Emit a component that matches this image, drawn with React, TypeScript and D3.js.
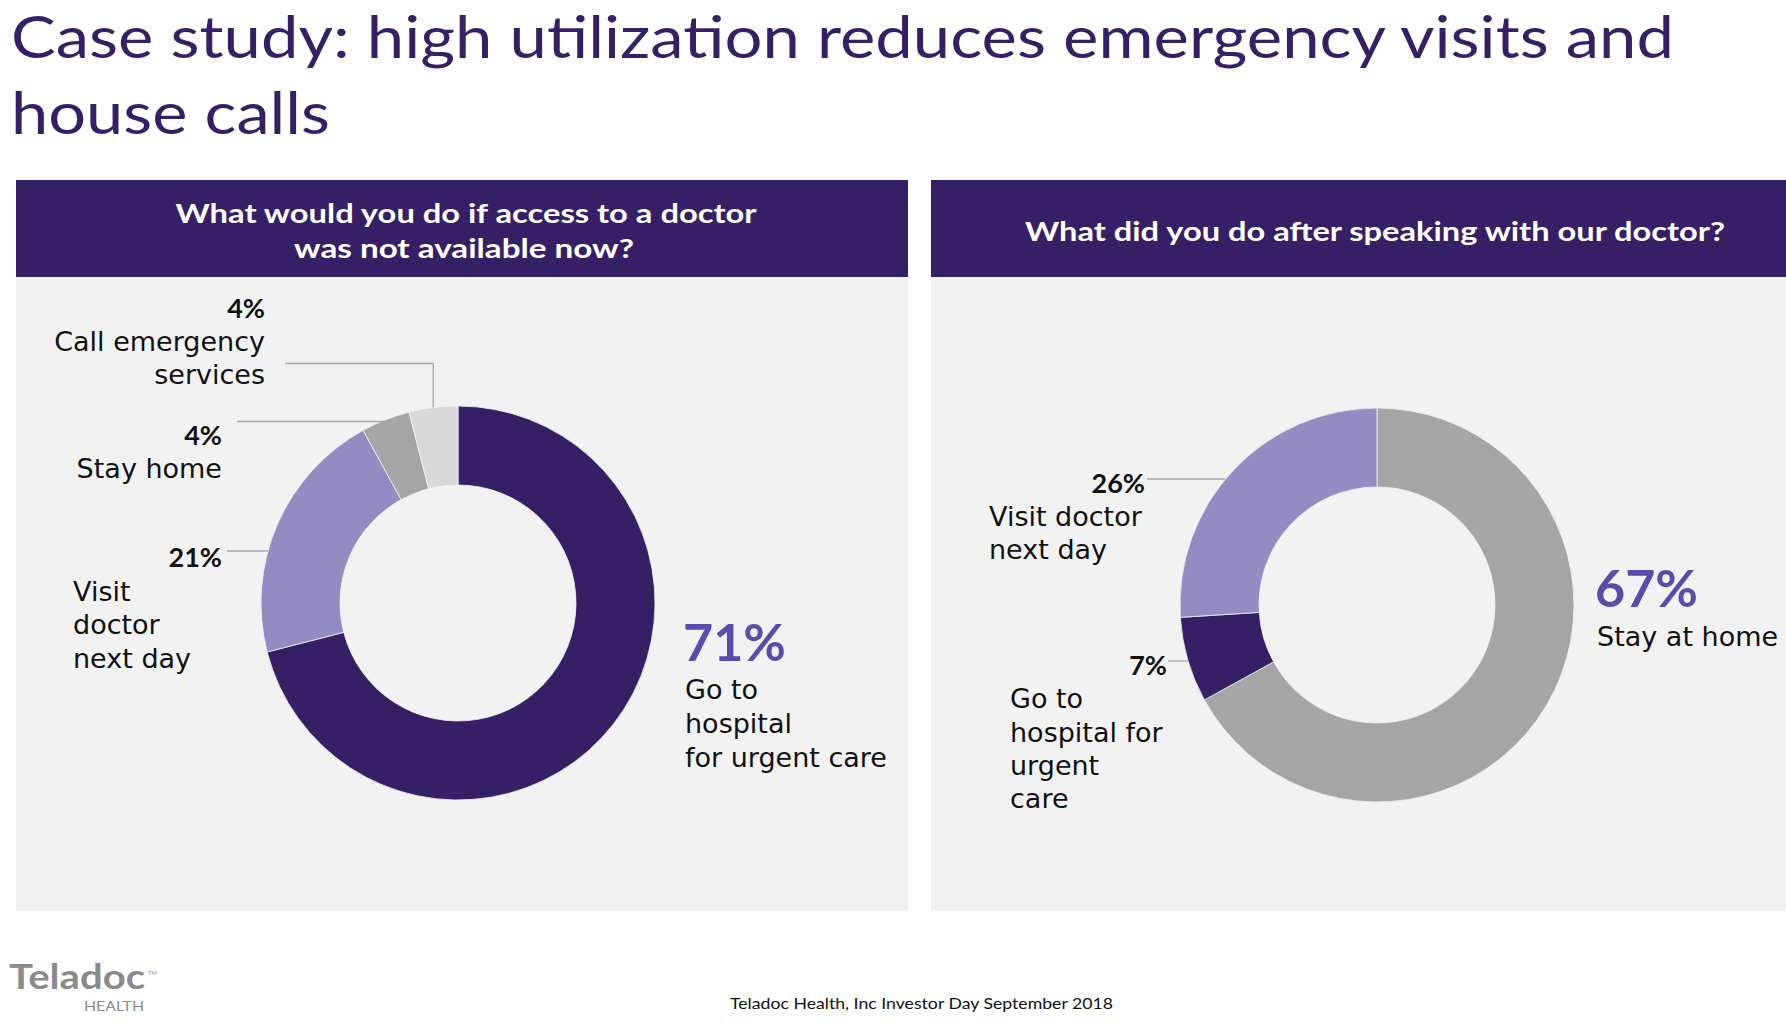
import React from 'react';
import * as d3 from 'd3';

const leftCategories = ['Go to hospital for urgent care', 'Visit doctor next day', 'Stay home', 'Call emergency services'];
const leftValues = [71, 21, 4, 4];
const leftColors = ['#351f65', '#948bc2', '#a5a5a5', '#d9d9d9'];

const rightCategories = ['Stay at home', 'Go to hospital for urgent care', 'Visit doctor next day'];
const rightValues = [67, 7, 26];
const rightColors = ['#a5a5a5', '#351f65', '#948bc2'];

const titleLines = ['Case study: high utilization reduces emergency visits and', 'house calls'];
const leftHeader = ['What would you do if access to a doctor', 'was not available now?'];
const rightHeader = ['What did you do after speaking with our doctor?'];
const footerText = 'Teladoc Health, Inc Investor Day September 2018';

const W = 1786;
const H = 1025;
const SANS = "'DejaVu Sans', sans-serif";
const LATO = "Lato, 'Open Sans', sans-serif";
const PURPLE = '#351f65';
const ACCENT = '#5b4bab';
const LINE = '#a6a6a6';
const outerR = 197;
const innerR = 118;

type Slice = d3.PieArcDatum<number>;

const pie = d3.pie<number>().sort(null).value(d => d);

function Donut({ values, colors, cx, cy }: { values: number[]; colors: string[]; cx: number; cy: number }) {
  const arc = d3.arc<Slice>().innerRadius(innerR).outerRadius(outerR);
  const arcs = pie(values);
  return (
    <g transform={`translate(${cx},${cy})`}>
      {arcs.map((a, i) => (
        <path key={i} d={arc(a) as string} fill={colors[i]} stroke="#f2f2f2" strokeWidth={0.8} />
      ))}
    </g>
  );
}

// x on the outer edge of a donut, left side, for a horizontal leader at y
function edgeX(cx: number, cy: number, y: number) {
  const dy = y - cy;
  return cx - Math.sqrt(outerR * outerR - dy * dy);
}

export default function App() {
  const lc = { x: 458, y: 603 };
  const rc = { x: 1377, y: 605 };

  // leader for call emergency services goes down to the slice's mid angle
  const la = pie(leftValues);
  const callMid = (la[3].startAngle + la[3].endAngle) / 2;
  const callX = lc.x + outerR * Math.sin(callMid);
  const callTop = lc.y - outerR * Math.cos(callMid);

  const labelStyle = { fontFamily: SANS, fontSize: 27, fill: '#111' } as const;
  const pctStyle = { fontFamily: LATO, fontSize: 27, fontWeight: 700, fill: '#111' } as const;
  const bigStyle = { fontFamily: LATO, fontSize: 52, fontWeight: 700, fill: ACCENT } as const;
  const headStyle = { fontFamily: LATO, fontSize: 27, fontWeight: 700 } as const;

  return (
    <svg width={W} height={H} style={{ position: 'absolute', left: 0, top: 0, background: '#fff' }}>
      <rect width={W} height={H} fill="#fff" />
      {/* title */}
      <text x={11} y={58} fill={PURPLE} style={{ fontFamily: LATO, fontSize: 59 }} textLength={1663} lengthAdjust="spacingAndGlyphs">{titleLines[0]}</text>
      <text x={11} y={134} fill={PURPLE} style={{ fontFamily: LATO, fontSize: 59 }} textLength={319} lengthAdjust="spacingAndGlyphs">{titleLines[1]}</text>

      {/* panels */}
      <rect x={16} y={180} width={892} height={731} fill="#f2f2f2" />
      <rect x={16} y={180} width={892} height={97} fill={PURPLE} />
      <rect x={931} y={180} width={855} height={731} fill="#f2f2f2" />
      <rect x={931} y={180} width={855} height={97} fill={PURPLE} />

      <text x={466} y={223} textAnchor="middle" fill="#fff" style={headStyle} textLength={581} lengthAdjust="spacingAndGlyphs">{leftHeader[0]}</text>
      <text x={464} y={258} textAnchor="middle" fill="#fff" style={headStyle} textLength={340} lengthAdjust="spacingAndGlyphs">{leftHeader[1]}</text>
      <text x={1375} y={241} textAnchor="middle" fill="#fff" style={headStyle} textLength={700} lengthAdjust="spacingAndGlyphs">{rightHeader[0]}</text>

      <Donut values={leftValues} colors={leftColors} cx={lc.x} cy={lc.y} />
      <Donut values={rightValues} colors={rightColors} cx={rc.x} cy={rc.y} />

      {/* left leaders */}
      <polyline points={`285,363.5 ${callX},363.5 ${callX},${callTop}`} fill="none" stroke={LINE} strokeWidth={1.3} />
      <line x1={237} x2={edgeX(lc.x, lc.y, 421.5) + 8} y1={421.5} y2={421.5} stroke={LINE} strokeWidth={1.3} />
      <line x1={227} x2={edgeX(lc.x, lc.y, 551)} y1={551} y2={551} stroke={LINE} strokeWidth={1.3} />

      {/* left labels */}
      <text x={265} y={318} textAnchor="end" style={pctStyle}>{leftValues[3]}%</text>
      <text x={265} y={351} textAnchor="end" style={labelStyle}>Call emergency</text>
      <text x={265} y={384} textAnchor="end" style={labelStyle}>services</text>

      <text x={222} y={445} textAnchor="end" style={pctStyle}>{leftValues[2]}%</text>
      <text x={222} y={478} textAnchor="end" style={labelStyle}>{leftCategories[2]}</text>

      <text x={222} y={567} textAnchor="end" style={pctStyle}>{leftValues[1]}%</text>
      <text x={73} y={601} style={labelStyle}>Visit</text>
      <text x={73} y={634} style={labelStyle}>doctor</text>
      <text x={73} y={668} style={labelStyle}>next day</text>

      <text x={683} y={661} style={bigStyle}>{leftValues[0]}%</text>
      <text x={685} y={699} style={labelStyle}>Go to</text>
      <text x={685} y={733} style={labelStyle}>hospital</text>
      <text x={685} y={767} style={labelStyle}>for urgent care</text>

      {/* right leaders */}
      <line x1={1147} x2={edgeX(rc.x, rc.y, 479)} y1={479} y2={479} stroke={LINE} strokeWidth={1.3} />
      <line x1={1168} x2={edgeX(rc.x, rc.y, 661)} y1={661} y2={661} stroke={LINE} strokeWidth={1.3} />

      {/* right labels */}
      <text x={1145} y={493} textAnchor="end" style={pctStyle}>{rightValues[2]}%</text>
      <text x={989} y={526} style={labelStyle}>Visit doctor</text>
      <text x={989} y={559} style={labelStyle}>next day</text>

      <text x={1167} y={675} textAnchor="end" style={pctStyle}>{rightValues[1]}%</text>
      <text x={1010} y={708} style={labelStyle}>Go to</text>
      <text x={1010} y={742} style={labelStyle}>hospital for</text>
      <text x={1010} y={775} style={labelStyle}>urgent</text>
      <text x={1010} y={808} style={labelStyle}>care</text>

      <text x={1595} y={607} style={bigStyle}>{rightValues[0]}%</text>
      <text x={1597} y={646} style={labelStyle}>{rightCategories[0]}</text>

      {/* footer */}
      <text x={9} y={989} fill="#8a8a8a" style={{ fontFamily: LATO, fontSize: 34, fontWeight: 700 }} textLength={136} lengthAdjust="spacingAndGlyphs">Teladoc</text>
      <text x={148} y={975} fill="#8a8a8a" style={{ fontFamily: LATO, fontSize: 6 }}>TM</text>
      <text x={84} y={1011} fill="#8a8a8a" style={{ fontFamily: LATO, fontSize: 14 }} textLength={60} lengthAdjust="spacingAndGlyphs">HEALTH</text>
      <text x={730} y={1009} fill="#111" style={{ fontFamily: LATO, fontSize: 16 }} textLength={383} lengthAdjust="spacingAndGlyphs">{footerText}</text>
    </svg>
  );
}
